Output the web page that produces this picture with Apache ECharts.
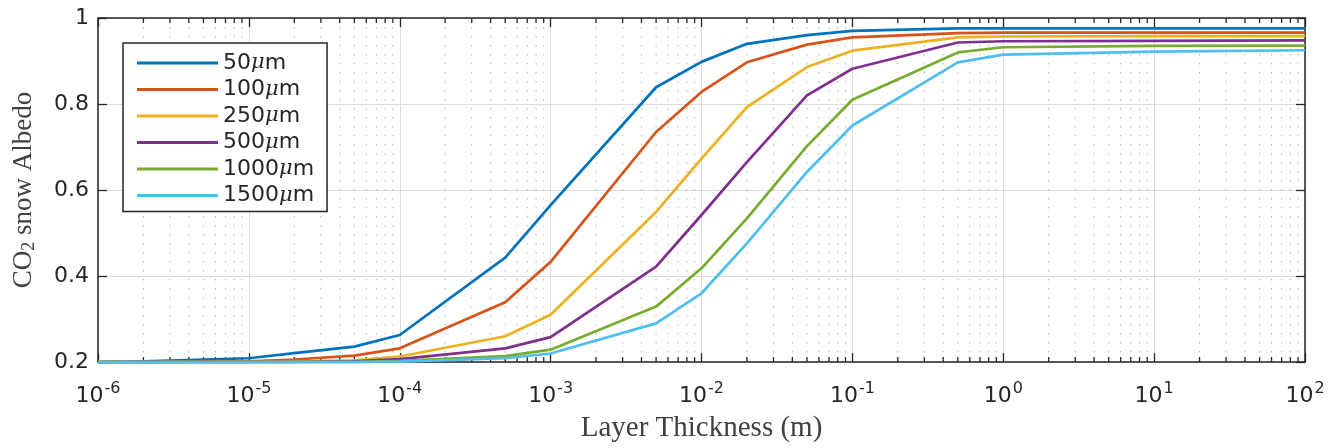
<!DOCTYPE html>
<html>
<head>
<meta charset="utf-8">
<script src="https://cdn.jsdelivr.net/npm/echarts@6/dist/echarts.min.js"></script>
<style>
html,body{margin:0;padding:0;background:#fff;}
#chart{width:1344px;height:448px;}
</style>
</head>
<body>
<div id="chart"></div>
<script>
// Layer thickness (m)
const thickness = [1e-6, 2e-6, 1e-5, 2e-5, 5e-5, 1e-4, 5e-4, 1e-3, 5e-3, 1e-2, 2e-2, 5e-2, 1e-1, 5e-1, 1, 10, 100];
const seriesNames = ['50μm', '100μm', '250μm', '500μm', '1000μm', '1500μm'];
const albedo50   = [0.200, 0.202, 0.209, 0.221, 0.236, 0.263, 0.443, 0.565, 0.839, 0.898, 0.940, 0.960, 0.970, 0.976, 0.976, 0.976, 0.976];
const albedo100  = [0.200, 0.200, 0.202, 0.206, 0.215, 0.232, 0.339, 0.433, 0.735, 0.828, 0.897, 0.938, 0.955, 0.965, 0.966, 0.966, 0.966];
const albedo250  = [0.200, 0.200, 0.200, 0.201, 0.204, 0.213, 0.260, 0.310, 0.549, 0.673, 0.793, 0.886, 0.924, 0.955, 0.957, 0.958, 0.958];
const albedo500  = [0.200, 0.200, 0.200, 0.200, 0.202, 0.207, 0.232, 0.258, 0.422, 0.542, 0.665, 0.820, 0.882, 0.943, 0.946, 0.947, 0.948];
const albedo1000 = [0.200, 0.200, 0.200, 0.200, 0.200, 0.203, 0.214, 0.229, 0.329, 0.418, 0.534, 0.702, 0.810, 0.920, 0.932, 0.935, 0.936];
const albedo1500 = [0.200, 0.200, 0.200, 0.200, 0.200, 0.201, 0.209, 0.220, 0.290, 0.360, 0.476, 0.642, 0.750, 0.897, 0.915, 0.922, 0.925];
const xTickExponents = ['-6', '-5', '-4', '-3', '-2', '-1', '0', '1', '2'];
const yTicks = ['0.2', '0.4', '0.6', '0.8', '1'];
const minorMultipliers = [2, 3, 4, 5, 6, 7, 8, 9];
const decades = [1e-6, 1e-5, 1e-4, 1e-3, 1e-2, 1e-1, 1, 10];

const colors = ['#0072BD', '#D95319', '#EDB120', '#7E2F8E', '#77AC30', '#4DBEEE'];
const allSeries = [albedo50, albedo100, albedo250, albedo500, albedo1000, albedo1500];

const minorTicks = [];
decades.forEach(d => minorMultipliers.forEach(m => minorTicks.push([m * d, 0.2])));

const axisColor = '#262626';
const chart = echarts.init(document.getElementById('chart'), null, {renderer: 'canvas'});

const lineSeries = allSeries.map((vals, i) => ({
  name: seriesNames[i],
  type: 'line',
  data: thickness.map((t, j) => [t, vals[j]]),
  showSymbol: false,
  symbol: 'none',
  lineStyle: {color: colors[i], width: 2.7},
  itemStyle: {color: colors[i]},
  z: 5,
  animation: false
}));

const minorSeries = {
  type: 'custom',
  name: 'minor',
  silent: true,
  clip: false,
  z: 1,
  data: minorTicks,
  renderItem: function (params, api) {
    const v = api.value(0);
    const pb = api.coord([v, 0.2]);
    const pt = api.coord([v, 1]);
    return {
      type: 'group',
      children: [
        {type: 'line', shape: {x1: pb[0], y1: pt[1], x2: pb[0], y2: pb[1]},
         style: {stroke: '#b5b5b5', lineWidth: 1, lineDash: [1.5, 7.5]}},
        {type: 'line', shape: {x1: pb[0], y1: pb[1], x2: pb[0], y2: pb[1] - 5},
         style: {stroke: axisColor, lineWidth: 1.3}},
        {type: 'line', shape: {x1: pb[0], y1: pt[1], x2: pb[0], y2: pt[1] + 5},
         style: {stroke: axisColor, lineWidth: 1.3}}
      ]
    };
  },
  animation: false
};

const xAxisBase = {
  type: 'log',
  logBase: 10,
  min: 1e-6,
  max: 100,
  axisLine: {show: true, lineStyle: {color: axisColor, width: 1.5}},
  axisTick: {show: true, inside: true, length: 9, lineStyle: {color: axisColor, width: 1.3}},
  minorTick: {show: false},
  splitLine: {show: false}
};

const option = {
  animation: false,
  backgroundColor: '#ffffff',
  grid: {left: 98, right: 39, top: 18, bottom: 84, containLabel: false},
  legend: {
    data: seriesNames,
    orient: 'vertical',
    left: 123,
    top: 43,
    padding: [8, 13, 4, 14],
    itemGap: 2.5,
    itemWidth: 81,
    itemHeight: 3,
    icon: 'rect',
    backgroundColor: '#ffffff',
    borderColor: axisColor,
    borderWidth: 1.5,
    borderRadius: 0,
    formatter: function (name) {
      return name.replace('μm', '') + '{mu|μ}m';
    },
    textStyle: {
      fontFamily: 'DejaVu Sans',
      fontSize: 22,
      color: axisColor,
      lineHeight: 24,
      rich: {
        mu: {fontFamily: 'DejaVu Serif', fontStyle: 'italic', fontSize: 21, color: axisColor}
      }
    }
  },
  xAxis: [
    Object.assign({}, xAxisBase, {
      position: 'bottom',
      name: 'Layer Thickness (m)',
      nameLocation: 'middle',
      nameGap: 51,
      nameTextStyle: {fontFamily: 'Liberation Serif', fontSize: 29, color: '#404040'},
      splitLine: {show: true, lineStyle: {color: '#dcdcdc', width: 1}},
      axisLabel: {
        show: true,
        margin: 19,
        color: axisColor,
        formatter: function (v, idx) {
          return '{b|10}{s|' + xTickExponents[idx] + '}';
        },
        rich: {
          b: {fontFamily: 'DejaVu Sans', fontSize: 22, color: axisColor, verticalAlign: 'bottom', lineHeight: 26},
          s: {fontFamily: 'DejaVu Sans', fontSize: 16, color: axisColor, verticalAlign: 'top', lineHeight: 26, padding: [0, 0, 12, 1]}
        }
      }
    }),
    Object.assign({}, xAxisBase, {
      position: 'top',
      axisLabel: {show: false}
    })
  ],
  yAxis: [
    {
      type: 'value',
      min: 0.2,
      max: 1,
      interval: 0.2,
      position: 'left',
      name: 'CO{sub|2} snow Albedo',
      nameLocation: 'middle',
      nameGap: 60,
      nameRotate: 90,
      nameTextStyle: {
        fontFamily: 'Liberation Serif', fontSize: 27, color: '#404040',
        rich: {sub: {fontFamily: 'Liberation Serif', fontSize: 18, color: '#404040', verticalAlign: 'bottom', padding: [10, 0, 0, 0]}}
      },
      axisLine: {show: true, lineStyle: {color: axisColor, width: 1.5}},
      axisTick: {show: true, inside: true, length: 9, lineStyle: {color: axisColor, width: 1.3}},
      splitLine: {show: true, lineStyle: {color: '#dcdcdc', width: 1}},
      axisLabel: {
        margin: 9,
        fontFamily: 'DejaVu Sans',
        fontSize: 22,
        color: axisColor,
        formatter: function (v, idx) { return yTicks[idx]; }
      }
    },
    {
      type: 'value',
      min: 0.2,
      max: 1,
      interval: 0.2,
      position: 'right',
      axisLine: {show: true, lineStyle: {color: axisColor, width: 1.5}},
      axisTick: {show: true, inside: true, length: 9, lineStyle: {color: axisColor, width: 1.3}},
      splitLine: {show: false},
      axisLabel: {show: false}
    }
  ],
  series: [minorSeries].concat(lineSeries)
};

chart.setOption(option);
</script>
</body>
</html>
